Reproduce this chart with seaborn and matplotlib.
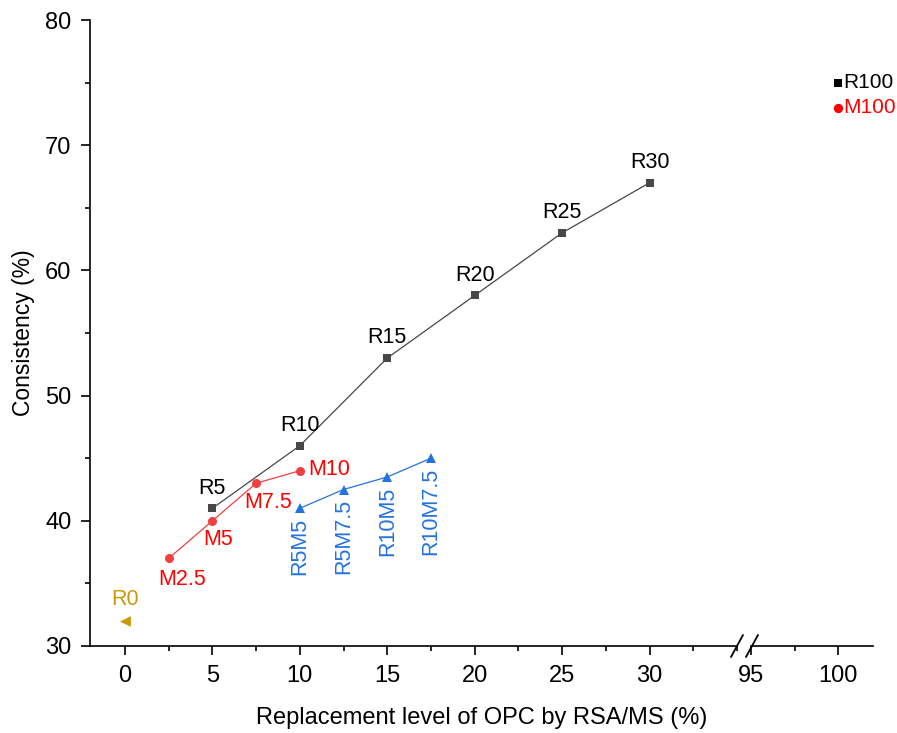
import matplotlib
matplotlib.use("Agg")
import matplotlib.pyplot as plt
from matplotlib.lines import Line2D
from matplotlib.ticker import MultipleLocator
import seaborn as sns

sns.set_theme(style="ticks")
plt.rcParams["font.family"] = ["Liberation Sans", "DejaVu Sans"]
plt.rcParams["text.color"] = "black"
plt.rcParams["axes.labelcolor"] = "black"

# RSA series
r_level = [5, 10, 15, 20, 25, 30]
r_cons = [41, 46, 53, 58, 63, 67]
r_names = ["R5", "R10", "R15", "R20", "R25", "R30"]

# MS series
m_level = [2.5, 5, 7.5, 10]
m_cons = [37, 40, 43, 44]
m_names = ["M2.5", "M5", "M7.5", "M10"]

# blended RSA + MS series
rm_level = [10, 12.5, 15, 17.5]
rm_cons = [41, 42.5, 43.5, 45]
rm_names = ["R5M5", "R5M7.5", "R10M5", "R10M7.5"]

# control
r0_level = [0]
r0_cons = [32]

# full replacement
full_level = [100, 100]
full_cons = [75, 73]
full_names = ["R100", "M100"]

C_R = "#474747"
C_M = "#f04040"
C_RM = "#2472e0"
C_R0 = "#c99a06"
FS_TICK = 17
FS_ANN = 15.5

W, H = 897, 733
fig = plt.figure(figsize=(W / 100, H / 100), dpi=100)
y0, y1 = 646, 20
ax1 = fig.add_axes([90 / W, 1 - y0 / H, (737 - 90) / W, (y0 - y1) / H])
ax2 = fig.add_axes([751 / W, 1 - y0 / H, (873 - 751) / W, (y0 - y1) / H], sharey=ax1)

sns.lineplot(x=r_level, y=r_cons, ax=ax1, color=C_R, lw=0.9, marker="s",
             markersize=6, markeredgewidth=0, markerfacecolor=C_R)
sns.lineplot(x=m_level, y=m_cons, ax=ax1, color=C_M, lw=0.9, marker="o",
             markersize=6.5, markeredgewidth=0, markerfacecolor=C_M)
sns.lineplot(x=rm_level, y=rm_cons, ax=ax1, color=C_RM, lw=0.9, marker="^",
             markersize=7.5, markeredgewidth=0, markerfacecolor=C_RM)
sns.scatterplot(x=r0_level, y=r0_cons, ax=ax1, color=C_R0, marker="<", s=60,
                linewidth=0)

sns.scatterplot(x=full_level[:1], y=full_cons[:1], ax=ax2, color="black",
                marker="s", s=40, linewidth=0)
sns.scatterplot(x=full_level[1:], y=full_cons[1:], ax=ax2, color="red",
                marker="o", s=45, linewidth=0)

# point labels
for x, y, t in zip(r_level, r_cons, r_names):
    ax1.annotate(t, (x, y), xytext=(0, 7), textcoords="offset points",
                 ha="center", va="bottom", fontsize=FS_ANN, color="black")

m_offsets = [(10, -8, "center", "top"), (4, -6, "center", "top"),
             (9, -6, "center", "top"), (6, 1, "left", "center")]
for (x, y, t), (dx, dy, ha, va) in zip(zip(m_level, m_cons, m_names), m_offsets):
    ax1.annotate(t, (x, y), xytext=(dx, dy), textcoords="offset points",
                 ha=ha, va=va, fontsize=FS_ANN, color="red")

for x, y, t in zip(rm_level, rm_cons, rm_names):
    ax1.annotate(t, (x, y), xytext=(0, -7), textcoords="offset points",
                 ha="center", va="top", rotation=90, fontsize=FS_ANN,
                 color=C_RM)

ax1.annotate("R0", (r0_level[0], r0_cons[0]), xytext=(0, 8),
             textcoords="offset points", ha="center", va="bottom",
             fontsize=FS_ANN, color=C_R0)

for y, t, c in zip(full_cons, full_names, ["black", "red"]):
    ax2.annotate(t, (full_level[0], y), xytext=(4, 0),
                 textcoords="offset points", ha="left", va="center",
                 fontsize=FS_ANN - 0.5, color=c, annotation_clip=False)

# axes styling
ax1.set_xlim(-2, 35)
ax2.set_xlim(95, 102)
ax1.set_ylim(30, 80)
ax1.set_xticks([0, 5, 10, 15, 20, 25, 30])
ax1.xaxis.set_minor_locator(MultipleLocator(2.5))
ax2.set_xticks([95, 100])
ax2.set_xticks([97.5], minor=True)
ax1.yaxis.set_major_locator(MultipleLocator(10))
ax1.yaxis.set_minor_locator(MultipleLocator(5))

for ax in (ax1, ax2):
    ax.spines["top"].set_visible(False)
    ax.spines["right"].set_visible(False)
    ax.spines["bottom"].set_linewidth(1.2)
    ax.spines["left"].set_linewidth(1.2)
    ax.spines["bottom"].set_color("black")
    ax.spines["left"].set_color("black")
    ax.tick_params(which="major", direction="out", length=6.5, width=1.2,
                   labelsize=FS_TICK, colors="black", pad=7)
    ax.tick_params(which="minor", direction="out", length=3.5, width=1.2,
                   colors="black")
    ax.set_facecolor("white")
    ax.grid(False)

ax2.spines["left"].set_visible(False)
ax2.tick_params(axis="y", which="both", left=False, labelleft=False)

ax1.set_ylabel("Consistency (%)", fontsize=16.5, labelpad=7)
fig.text((90 + 873) / 2 / W, 1 - 718 / H, "Replacement level of OPC by RSA/MS (%)",
         ha="center", va="center", fontsize=17)

# axis break marks
for xc in (737, 752):
    fig.add_artist(Line2D([(xc - 6) / W, (xc + 6) / W],
                          [1 - (y0 + 11) / H, 1 - (y0 - 11) / H],
                          color="black", lw=1.3, transform=fig.transFigure))

fig.savefig("out.png", dpi=100, facecolor="white")
